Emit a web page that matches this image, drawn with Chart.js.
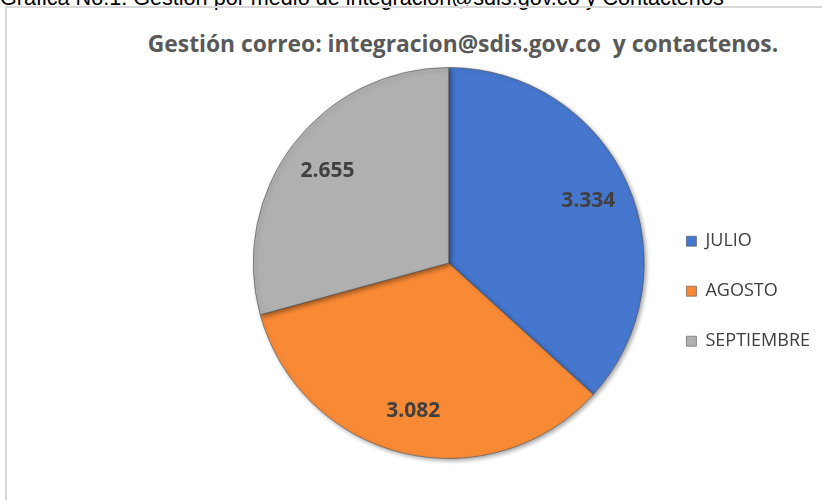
<!DOCTYPE html>
<html>
<head>
<meta charset="utf-8">
<script src="https://cdn.jsdelivr.net/npm/chart.js@4/dist/chart.umd.min.js"></script>
<style>
  html, body { margin: 0; padding: 0; background: #fff; overflow: hidden; }
  body { width: 822px; height: 500px; position: relative; }
  #caption {
    position: absolute; left: 0; top: -15px; white-space: nowrap;
    font-family: "Liberation Sans", Arial, sans-serif; font-size: 21.6px; color: #000;
  }
  #frame {
    position: absolute; left: 5px; top: 6px; width: 830px; height: 510px;
    border: 2px solid #d9d9d9; box-sizing: border-box;
  }
  #title {
    position: absolute; left: 0; width: 926px; top: 28px; text-align: center;
    font-family: "Open Sans", sans-serif; font-weight: bold; font-size: 22.8px; color: #595959;
    white-space: pre;
  }
  #wrap { position: absolute; left: 0; top: 0; width: 822px; height: 500px; }
</style>
</head>
<body>
<div id="caption">Gráfica No.1. Gestión por medio de integracion@sdis.gov.co y Contactenos</div>
<div id="frame"></div>
<div id="title">Gestión correo: integracion@sdis.gov.co  y contactenos.</div>
<div id="wrap"><canvas id="emailChart"></canvas></div>
<script>
// Datos
const months = ['JULIO', 'AGOSTO', 'SEPTIEMBRE'];
const emails = [3334, 3082, 2655];
const sliceColors = ['#4677CE', '#F88A36', '#B0B0B0'];

const fmt = v => v.toLocaleString('de-DE');

// Etiquetas de valor dentro de cada porción
const valueLabels = {
    id: 'valueLabels',
    afterDatasetsDraw(chart) {
        const ctx = chart.ctx;
        const meta = chart.getDatasetMeta(0);
        ctx.save();
        ctx.font = 'bold 21px "Open Sans", sans-serif';
        ctx.fillStyle = '#404040';
        ctx.textAlign = 'center';
        ctx.textBaseline = 'middle';
        meta.data.forEach((arc, i) => {
            const p = arc.getProps(['x', 'y', 'startAngle', 'endAngle', 'outerRadius'], true);
            const mid = (p.startAngle + p.endAngle) / 2;
            const r = p.outerRadius * 0.78;
            ctx.fillText(fmt(emails[i]), p.x + Math.cos(mid) * r, p.y + Math.sin(mid) * r);
        });
        ctx.restore();
    }
};

// Sombra suave para imitar el relieve
const sliceShadow = {
    id: 'sliceShadow',
    beforeDatasetsDraw(chart) {
        const ctx = chart.ctx;
        ctx.save();
        ctx.shadowColor = 'rgba(0,0,0,0.35)';
        ctx.shadowBlur = 4;
        ctx.shadowOffsetX = 2;
        ctx.shadowOffsetY = 2;
    },
    afterDatasetsDraw(chart) {
        chart.ctx.restore();
    }
};

const ctx1 = document.getElementById('emailChart').getContext('2d');
const emailChart = new Chart(ctx1, {
    type: 'pie',
    data: {
        labels: months,
        datasets: [{
            data: emails,
            backgroundColor: sliceColors,
            borderColor: 'rgba(80,80,80,0.6)',
            borderWidth: 1
        }]
    },
    options: {
        responsive: true,
        maintainAspectRatio: false,
        animation: false,
        layout: {
            padding: { left: 243, right: 2, top: 67, bottom: 41 }
        },
        plugins: {
            tooltip: { enabled: false },
            legend: {
                position: 'right',
                title: { display: true, text: '', padding: { top: 42, bottom: 0 }, font: { size: 12 } },
                labels: {
                    boxWidth: 10,
                    boxHeight: 10,
                    padding: 32,
                    color: '#404040',
                    font: { family: '"Open Sans", sans-serif', size: 18 }
                }
            }
        }
    },
    plugins: [sliceShadow, valueLabels]
});
</script>
</body>
</html>
